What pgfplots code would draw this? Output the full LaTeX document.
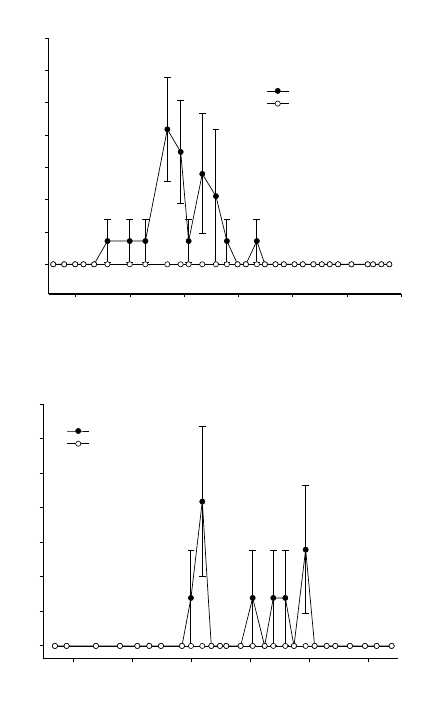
\documentclass[border=0pt]{standalone}
\usepackage{pgfplots}
\pgfplotsset{compat=1.18}
\begin{document}
\begin{tikzpicture}
\path (0bp,0bp) rectangle (422bp,710bp);
\pgfplotsset{
  panel/.style={
    scale only axis,
    axis x line*=bottom, axis y line*=left,
    axis line style={line width=1.2bp},
    tick style={line width=0.9bp, black},
    tick align=outside,
    major tick length=3.5bp,
    xticklabels={}, yticklabels={},
    ytick={0,1,2,3,4,5,6,7},
    ymax=7,
    clip=false,
    legend style={draw=none, fill=none, inner sep=0pt, outer sep=0pt,
      row sep=0bp, nodes={inner sep=0pt, outer sep=0pt, minimum height=12.7bp}},
    legend cell align=left,
    legend image code/.code={\draw[mark repeat=2,mark phase=2,##1] plot coordinates {(0bp,0bp)(10.8bp,0bp)(21.6bp,0bp)};},
  },
  filled/.style={black, line width=0.7bp, mark=*, mark size=2.6bp,
    mark options={solid, fill=black, line width=0.6bp},
    error bars/.cd, y dir=both, y explicit,
    error bar style={line width=0.9bp, black},
    error mark options={rotate=90, mark size=3.4bp, line width=0.9bp, black}},
  open/.style={black, line width=0.7bp, mark=*, mark size=2.6bp,
    mark options={solid, fill=white, line width=0.6bp}},
}
% top panel
\begin{axis}[panel, at={(48.7bp,416bp)}, anchor=south west,
  width=352.6bp, height=255.7bp,
  xmin=5, xmax=70, ymin=-0.92,
  xtick={10,20,30,40,50,60,70},
  legend style={at={(0.618,0.819)}, anchor=north west}]
\addplot[filled] coordinates {
 (5.83,0) (7.85,0) (9.88,0) (11.41,0) (13.37,0)
 (15.83,0.72) +- (0,0.67)
 (19.94,0.72) +- (0,0.67)
 (22.82,0.72) +- (0,0.67)
 (26.87,4.18) +- (0,1.61)
 (29.33,3.48) +- (0,1.60)
 (30.80,0.72) +- (0,0.67)
 (33.31,2.80) +- (0,1.86)
 (35.83,2.11) +- (0,2.08)
 (37.85,0.72) +- (0,0.67)
 (39.82,0) (41.35,0)
 (43.37,0.72) +- (0,0.67)
 (44.85,0) (46.81,0) (48.34,0) (50.31,0) (51.84,0) (53.80,0) (55.34,0)
 (56.81,0) (58.34,0) (60.80,0) (63.80,0) (64.79,0) (66.32,0) (67.79,0)
};
\addlegendentry{}
\addplot[open] coordinates {
 (5.83,0) (7.85,0) (9.88,0) (11.41,0) (13.37,0) (15.83,0) (19.94,0)
 (22.82,0) (26.87,0) (29.33,0) (30.80,0) (33.31,0) (35.83,0) (37.85,0)
 (39.82,0) (41.35,0) (43.37,0) (44.85,0) (46.81,0) (48.34,0) (50.31,0)
 (51.84,0) (53.80,0) (55.34,0) (56.81,0) (58.34,0) (60.80,0) (63.80,0)
 (64.79,0) (66.32,0) (67.79,0)
};
\addlegendentry{}
\end{axis}
% bottom panel
\begin{axis}[panel, at={(43.3bp,51.3bp)}, anchor=south west,
  width=355bp, height=254.4bp,
  xmin=4.92, xmax=65.08, ymin=-0.37,
  xtick={10,20,30,40,50,60},
  legend style={at={(0.067,0.920)}, anchor=north west}]
\addplot[filled] coordinates {
 (6.89,0) (8.87,0) (13.84,0) (17.91,0) (20.85,0) (22.88,0) (24.86,0)
 (28.42,0)
 (29.94,1.39) +- (0,1.38)
 (31.86,4.18) +- (0,2.17)
 (33.39,0) (34.86,0) (35.93,0) (38.36,0)
 (40.40,1.39) +- (0,1.38)
 (42.43,0)
 (43.90,1.39) +- (0,1.38)
 (45.93,1.39) +- (0,1.38)
 (47.40,0)
 (49.38,2.79) +- (0,1.86)
 (50.90,0) (52.94,0) (54.41,0) (56.89,0) (59.44,0) (61.41,0) (63.95,0)
};
\addlegendentry{}
\addplot[open] coordinates {
 (6.89,0) (8.87,0) (13.84,0) (17.91,0) (20.85,0) (22.88,0) (24.86,0)
 (28.42,0) (29.94,0) (31.86,0) (33.39,0) (34.86,0) (35.93,0) (38.36,0)
 (40.40,0) (42.43,0) (43.90,0) (45.93,0) (47.40,0) (49.38,0) (50.90,0)
 (52.94,0) (54.41,0) (56.89,0) (59.44,0) (61.41,0) (63.95,0)
};
\addlegendentry{}
\end{axis}
\end{tikzpicture}
\end{document}
